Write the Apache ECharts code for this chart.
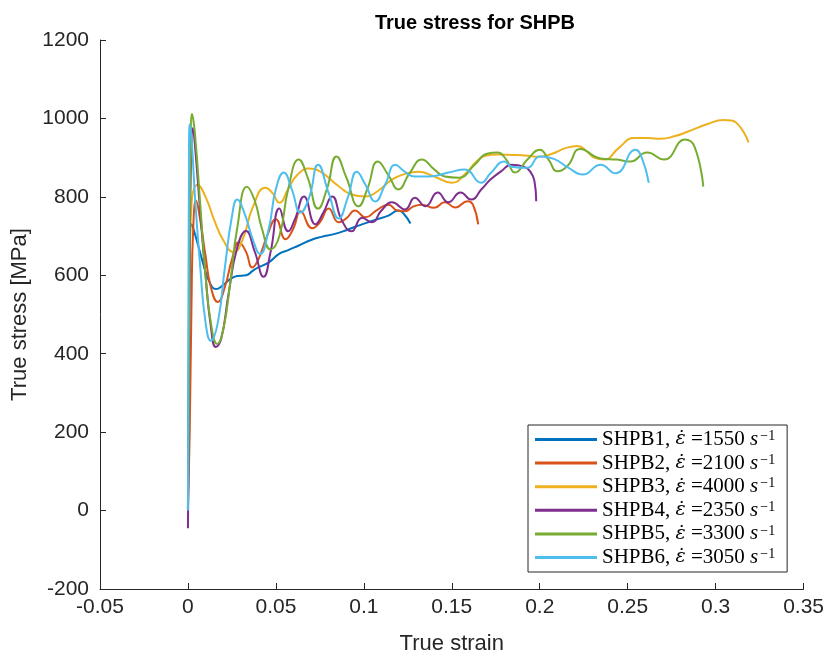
<!DOCTYPE html>
<html>
<head>
<meta charset="utf-8">
<script src="https://cdn.jsdelivr.net/npm/echarts@6/dist/echarts.min.js"></script>
<style>html,body{margin:0;padding:0;background:#fff;}#c{width:827px;height:660px;}</style>
</head>
<body>
<div id="c"></div>
<script>
var seriesNames = ['SHPB1', 'SHPB2', 'SHPB3', 'SHPB4', 'SHPB5', 'SHPB6'];
var strainRates = ['1550', '2100', '4000', '2350', '3300', '3050'];
var xTicks = [-0.05, 0, 0.05, 0.1, 0.15, 0.2, 0.25, 0.3, 0.35];
var yTicks = [-200, 0, 200, 400, 600, 800, 1000, 1200];

var shpb1 = [[0,0],[0.0006,400],[0.0012,690],[0.002,730],[0.004,705],[0.008,640],[0.012,585],[0.016,565],[0.02,575],[0.024,590],[0.028,598],[0.033,600],[0.037,612],[0.04,620],[0.046,633],[0.052,655],[0.057,664],[0.063,676],[0.07,690],[0.076,698],[0.083,705],[0.09,715],[0.096,725],[0.101,733],[0.107,742],[0.114,752],[0.1196,765],[0.123,755],[0.1265,732]];
var shpb2 = [[0,0],[0.001,200],[0.002,520],[0.003,720],[0.0046,790],[0.007,740],[0.01,650],[0.013,570],[0.017,532],[0.021,570],[0.025,640],[0.029,684],[0.033,660],[0.0366,620],[0.04,640],[0.045,700],[0.05,743],[0.0555,692],[0.06,720],[0.064,763],[0.0706,720],[0.075,735],[0.08,770],[0.0857,735],[0.09,745],[0.095,765],[0.101,748],[0.107,765],[0.114,780],[0.119,765],[0.1234,763],[0.128,775],[0.133,780],[0.14,772],[0.146,786],[0.152,773],[0.159,789],[0.162,780],[0.165,730]];
var shpb3 = [[0,0],[0.0003,300],[0.0008,600],[0.002,780],[0.0055,831],[0.01,800],[0.015,740],[0.02,690],[0.026,659],[0.031,690],[0.037,775],[0.044,823],[0.048,810],[0.052,785],[0.057,820],[0.062,855],[0.0687,872],[0.075,865],[0.0857,827],[0.093,806],[0.101,801],[0.108,815],[0.116,844],[0.123,858],[0.131,864],[0.14,852],[0.15,836],[0.158,860],[0.164,890],[0.169,905],[0.176,908],[0.184,907],[0.193,905],[0.199,902],[0.207,910],[0.215,925],[0.2215,930],[0.227,915],[0.231,900],[0.2366,895],[0.245,925],[0.2536,950],[0.262,950],[0.2686,948],[0.277,955],[0.284,966],[0.295,985],[0.3045,996],[0.309,995],[0.312,988],[0.316,965],[0.3187,939]];
var shpb4 = [[0,-45],[0.0004,200],[0.001,650],[0.0018,900],[0.0028,975],[0.004,930],[0.007,760],[0.01,600],[0.013,470],[0.0159,417],[0.019,440],[0.023,550],[0.028,670],[0.033,713],[0.038,660],[0.043,596],[0.047,660],[0.052,770],[0.057,712],[0.061,745],[0.066,801],[0.0725,730],[0.077,760],[0.082,801],[0.0875,740],[0.093,712],[0.099,747],[0.1045,735],[0.11,765],[0.116,786],[0.1234,768],[0.129,798],[0.135,776],[0.142,811],[0.148,786],[0.155,811],[0.161,793],[0.167,820],[0.172,844],[0.178,865],[0.184,882],[0.191,877],[0.195,862],[0.197,840],[0.198,789]];
var shpb5 = [[0,15],[0.0003,200],[0.0008,600],[0.0015,900],[0.0023,1011],[0.004,960],[0.007,780],[0.01,600],[0.013,480],[0.0166,425],[0.02,460],[0.024,580],[0.028,720],[0.0336,826],[0.038,790],[0.042,720],[0.047,666],[0.052,700],[0.057,820],[0.063,895],[0.068,850],[0.074,770],[0.079,820],[0.0845,903],[0.09,850],[0.097,776],[0.102,820],[0.108,890],[0.114,855],[0.1196,819],[0.126,860],[0.133,895],[0.14,870],[0.146,852],[0.154,849],[0.163,882],[0.17,910],[0.176,913],[0.181,895],[0.186,862],[0.193,895],[0.2,920],[0.205,895],[0.21,865],[0.216,880],[0.223,922],[0.2346,898],[0.244,895],[0.2515,890],[0.261,913],[0.2707,895],[0.2826,946],[0.288,928],[0.293,826]];
var shpb6 = [[0,0],[0.0002,400],[0.0005,800],[0.0009,985],[0.002,950],[0.004,800],[0.007,620],[0.01,480],[0.013,433],[0.017,480],[0.021,620],[0.025,750],[0.028,793],[0.032,760],[0.037,690],[0.041,654],[0.046,720],[0.05,820],[0.0545,862],[0.059,820],[0.064,760],[0.069,800],[0.074,882],[0.08,810],[0.0857,745],[0.091,800],[0.096,864],[0.101,830],[0.1065,788],[0.112,830],[0.118,882],[0.123,865],[0.129,852],[0.137,852],[0.148,862],[0.1575,870],[0.1667,836],[0.172,860],[0.18,890],[0.184,877],[0.193,874],[0.2,903],[0.208,897],[0.216,875],[0.2245,857],[0.2346,882],[0.243,860],[0.2545,920],[0.258,900],[0.262,836]];

var allData = [shpb1, shpb2, shpb3, shpb4, shpb5, shpb6];
var colors = ['#0072BD', '#D95319', '#EDB120', '#7E2F8E', '#77AC30', '#4DBEEE'];

var chart = echarts.init(document.getElementById('c'), null, {renderer: 'canvas'});
var axisColor = '#262626';
var sansFont = 'Liberation Sans, Arial, Helvetica, sans-serif';
var serifFont = 'Liberation Serif, DejaVu Serif, serif';
var dotFont = 'DejaVu Serif, serif';

var series = seriesNames.map(function (n, i) {
  return {
    name: n,
    type: 'line',
    data: allData[i],
    showSymbol: false,
    symbol: 'none',
    smooth: 0.5,
    lineStyle: {width: 2, color: colors[i]},
    itemStyle: {color: colors[i]},
    z: 2 + i
  };
});

var rateMap = {};
seriesNames.forEach(function (n, i) { rateMap[n] = strainRates[i]; });

chart.setOption({
  animation: false,
  backgroundColor: '#fff',
  title: {
    text: 'True stress for SHPB',
    left: 470, top: 8, textAlign: 'center',
    textStyle: {fontFamily: sansFont, fontWeight: 'bold', fontSize: 20, color: '#000'}
  },
  grid: {left: 100, right: 20, top: 40, bottom: 69, containLabel: false},
  xAxis: {
    type: 'value', min: -0.05, max: 0.35, interval: 0.05,
    name: 'True strain', nameLocation: 'middle', nameGap: 44,
    nameTextStyle: {fontFamily: sansFont, fontSize: 22, color: axisColor},
    axisLine: {show: true, onZero: false, lineStyle: {color: axisColor, width: 1}},
    axisTick: {show: true, inside: true, length: 6, lineStyle: {color: axisColor}},
    axisLabel: {fontFamily: sansFont, fontSize: 21, color: axisColor, margin: 8,
      formatter: function (v) { return String(Math.round(v * 100) / 100); }},
    splitLine: {show: false}
  },
  yAxis: {
    type: 'value', min: -200, max: 1200, interval: 200,
    name: 'True stress [MPa]', nameLocation: 'middle', nameGap: 63,
    nameTextStyle: {fontFamily: sansFont, fontSize: 22, color: axisColor},
    axisLine: {show: true, onZero: false, lineStyle: {color: axisColor, width: 1}},
    axisTick: {show: true, inside: true, length: 6, lineStyle: {color: axisColor}},
    axisLabel: {fontFamily: sansFont, fontSize: 21, color: axisColor, margin: 11,
      formatter: function (v) { return String(v); }},
    splitLine: {show: false}
  },
  legend: {
    orient: 'vertical',
    left: 528, top: 425,
    padding: [4, 12, 4, 7],
    itemGap: 2.6,
    itemWidth: 62, itemHeight: 3,
    icon: 'rect',
    backgroundColor: '#fff',
    borderColor: axisColor, borderWidth: 1, borderRadius: 0,
    data: seriesNames,
    formatter: function (name) {
      return '{n|' + name + ', }{d|\u03B5\u0307}{n| =' + rateMap[name] + ' }{i|s}{sup|\u22121}';
    },
    textStyle: {
      fontFamily: serifFont, fontSize: 21, color: '#000', padding: [0, 0, 0, 0],
      rich: {
        n: {fontFamily: serifFont, fontSize: 21, color: '#000', lineHeight: 20},
        d: {fontFamily: dotFont, fontStyle: 'italic', fontSize: 19, color: '#000', lineHeight: 20},
        i: {fontFamily: serifFont, fontStyle: 'italic', fontSize: 21, color: '#000', lineHeight: 20},
        sup: {fontFamily: serifFont, fontSize: 14, color: '#000', verticalAlign: 'top', lineHeight: 20, padding: [0, 0, 0, 2]}
      }
    }
  },
  series: series
});
</script>
</body>
</html>
